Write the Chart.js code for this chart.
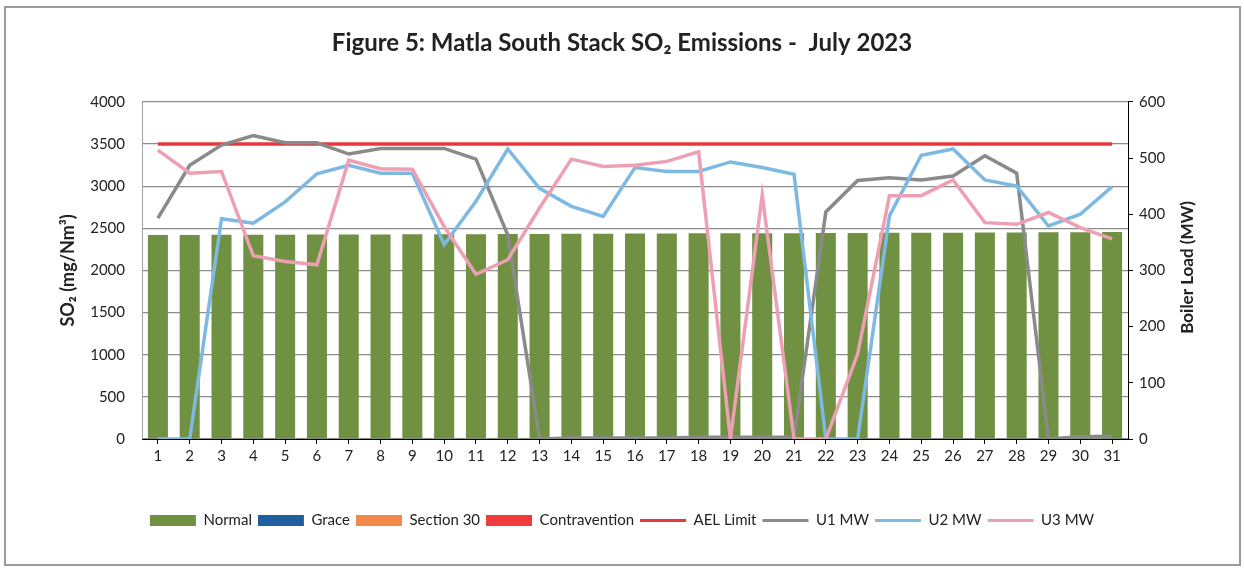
<!DOCTYPE html>
<html>
<head>
<meta charset="utf-8">
<title>Matla South Stack SO2 Emissions - July 2023</title>
<script src="https://cdn.jsdelivr.net/npm/chart.js@4.4.0/dist/chart.umd.min.js"></script>
<style>
    html, body { margin: 0; padding: 0; background: #fff; }
    #frame { position: absolute; left: 4px; top: 6px; width: 1233px; height: 556px; border: 2px solid #9a9a9a; }
    #wrap { position: absolute; left: 0; top: 0; width: 1244px; height: 569px; }
</style>
</head>
<body>
<div id="frame"></div>
<div id="wrap"><canvas id="so2Chart"></canvas></div>
<script>
// Days of July 2023
const days = ['1', '2', '3', '4', '5', '6', '7', '8', '9', '10', '11', '12', '13', '14', '15', '16',
              '17', '18', '19', '20', '21', '22', '23', '24', '25', '26', '27', '28', '29', '30', '31'];

// SO2 emissions (mg/Nm3) - all days "Normal"
const normalSO2 = [2420, 2420, 2422, 2424, 2424, 2425, 2426, 2427, 2428, 2430, 2430, 2432, 2433, 2434, 2435, 2437,
                   2438, 2440, 2440, 2442, 2442, 2444, 2445, 2446, 2448, 2448, 2450, 2451, 2452, 2454, 2455];
const graceSO2 = [];
const section30SO2 = [];
const contraventionSO2 = [];

// AEL limit (mg/Nm3)
const aelLimit = [3500, 3500, 3500, 3500, 3500, 3500, 3500, 3500, 3500, 3500, 3500, 3500, 3500, 3500, 3500, 3500,
                  3500, 3500, 3500, 3500, 3500, 3500, 3500, 3500, 3500, 3500, 3500, 3500, 3500, 3500, 3500];

// Boiler load (MW)
const u1MW = [393, 487, 523, 540, 527, 527, 507, 517, 517, 517, 498, 363, 0, 2, 2, 2,
              2, 3, 3, 3, 3, 404, 460, 465, 461, 468, 504, 473, 0, 4, 5];
const u2MW = [0, 0, 392, 384, 422, 472, 487, 473, 473, 346, 423, 516, 446, 414, 396, 483,
              476, 476, 493, 483, 471, 0, 0, 397, 505, 516, 461, 450, 379, 400, 449];
const u3MW = [514, 473, 476, 326, 316, 310, 496, 481, 480, 378, 293, 319, 411, 498, 485, 487,
              494, 511, 0, 434, 0, 0, 151, 433, 433, 461, 385, 382, 403, 376, 356];

const FONT = 'Lato, "Open Sans", "Liberation Sans", sans-serif';

// right axis title reads bottom-to-top like the left one
const rightTitle = {
    id: 'rightTitle',
    afterDraw: function(chart) {
        const c = chart.ctx;
        const area = chart.chartArea;
        c.save();
        c.translate(1188, (area.top + area.bottom) / 2 - 3);
        c.rotate(-Math.PI / 2);
        c.font = 'bold 17px ' + FONT;
        c.fillStyle = '#222';
        c.textAlign = 'center';
        c.textBaseline = 'middle';
        c.fillText('Boiler Load (MW)', 0, 0);
        c.restore();
    }
};

document.addEventListener('DOMContentLoaded', function() {
    const ctx = document.getElementById('so2Chart').getContext('2d');

    window.so2Chart = new Chart(ctx, {
        type: 'bar',
        data: {
            labels: days,
            datasets: [
                { type: 'bar', label: 'Normal', data: normalSO2, backgroundColor: '#6f9141', yAxisID: 'y', order: 10 },
                { type: 'bar', label: 'Grace', data: graceSO2, backgroundColor: '#1f5f9e', yAxisID: 'y', order: 10 },
                { type: 'bar', label: 'Section 30', data: section30SO2, backgroundColor: '#f0894a', yAxisID: 'y', order: 10 },
                { type: 'bar', label: 'Contravention', data: contraventionSO2, backgroundColor: '#f03c3c', yAxisID: 'y', order: 10 },
                { type: 'line', label: 'AEL Limit', data: aelLimit, borderColor: '#e8383d', yAxisID: 'y', order: 4 },
                { type: 'line', label: 'U1 MW', data: u1MW, borderColor: '#8a8a8a', yAxisID: 'yR', order: 3 },
                { type: 'line', label: 'U2 MW', data: u2MW, borderColor: '#7db9e3', yAxisID: 'yR', order: 2 },
                { type: 'line', label: 'U3 MW', data: u3MW, borderColor: '#eda0b3', yAxisID: 'yR', order: 1 }
            ]
        },
        options: {
            responsive: true,
            maintainAspectRatio: false,
            animation: false,
            layout: { padding: { left: 0, right: 0, top: 0, bottom: 31 } },
            datasets: {
                bar: { grouped: false, barPercentage: 0.63, categoryPercentage: 1.0, borderWidth: 0 },
                line: { borderWidth: 3.5, pointRadius: 0, tension: 0, fill: false }
            },
            scales: {
                x: {
                    grid: { drawOnChartArea: false, drawTicks: true, tickLength: 5, color: '#000', offset: false },
                    border: { display: true, color: '#000', width: 1 },
                    ticks: { font: { family: FONT, size: 15 }, color: '#222', padding: 3, maxRotation: 0, autoSkip: false },
                    afterFit: function(scale) { scale.height = 68; }
                },
                y: {
                    position: 'left',
                    min: 0,
                    max: 4000,
                    ticks: {
                        stepSize: 500, font: { family: FONT, size: 15 }, color: '#222', padding: 17,
                        callback: function(value) { return String(value); }
                    },
                    grid: { color: '#8c8c8c', lineWidth: 1.2, drawTicks: false },
                    border: { display: true, color: '#a0a0a0', width: 1 },
                    title: { display: true, text: 'SO\u2082 (mg/Nm\u00b3)', font: { family: FONT, size: 18, weight: 'bold' }, color: '#222', padding: { top: 57, bottom: 0 } },
                    afterFit: function(scale) { scale.width = 142; }
                },
                yR: {
                    position: 'right',
                    min: 0,
                    max: 600,
                    ticks: {
                        stepSize: 100, font: { family: FONT, size: 15 }, color: '#222', padding: 6,
                        callback: function(value) { return String(value); }
                    },
                    grid: { drawOnChartArea: false, drawTicks: true, tickLength: 5, color: '#000' },
                    border: { display: true, color: '#000', width: 1 },
                    title: { display: false },
                    afterFit: function(scale) { scale.width = 116; }
                }
            },
            plugins: {
                title: {
                    display: true,
                    text: 'Figure 5: Matla South Stack SO\u2082 Emissions -  July 2023',
                    font: { family: FONT, size: 24, weight: 'bold' },
                    color: '#222',
                    padding: { top: 29, bottom: 44 }
                },
                legend: {
                    position: 'bottom',
                    labels: {
                        usePointStyle: true,
                        pointStyleWidth: 46,
                        boxHeight: 11,
                        padding: 6,
                        font: { family: FONT, size: 15 },
                        color: '#222',
                        sort: function(a, b) { return a.datasetIndex - b.datasetIndex; },
                        generateLabels: function(chart) {
                            const items = Chart.defaults.plugins.legend.labels.generateLabels(chart);
                            items.forEach(function(item) {
                                const ds = chart.data.datasets[item.datasetIndex];
                                if (ds.type === 'line') {
                                    item.pointStyle = 'line';
                                    item.lineWidth = 3;
                                    item.strokeStyle = ds.borderColor;
                                } else {
                                    item.pointStyle = 'rect';
                                    item.lineWidth = 0;
                                    item.fillStyle = ds.backgroundColor;
                                    item.strokeStyle = ds.backgroundColor;
                                }
                            });
                            return items;
                        }
                    }
                },
                tooltip: { enabled: false }
            }
        },
        plugins: [rightTitle]
    });
});
</script>
</body>
</html>
